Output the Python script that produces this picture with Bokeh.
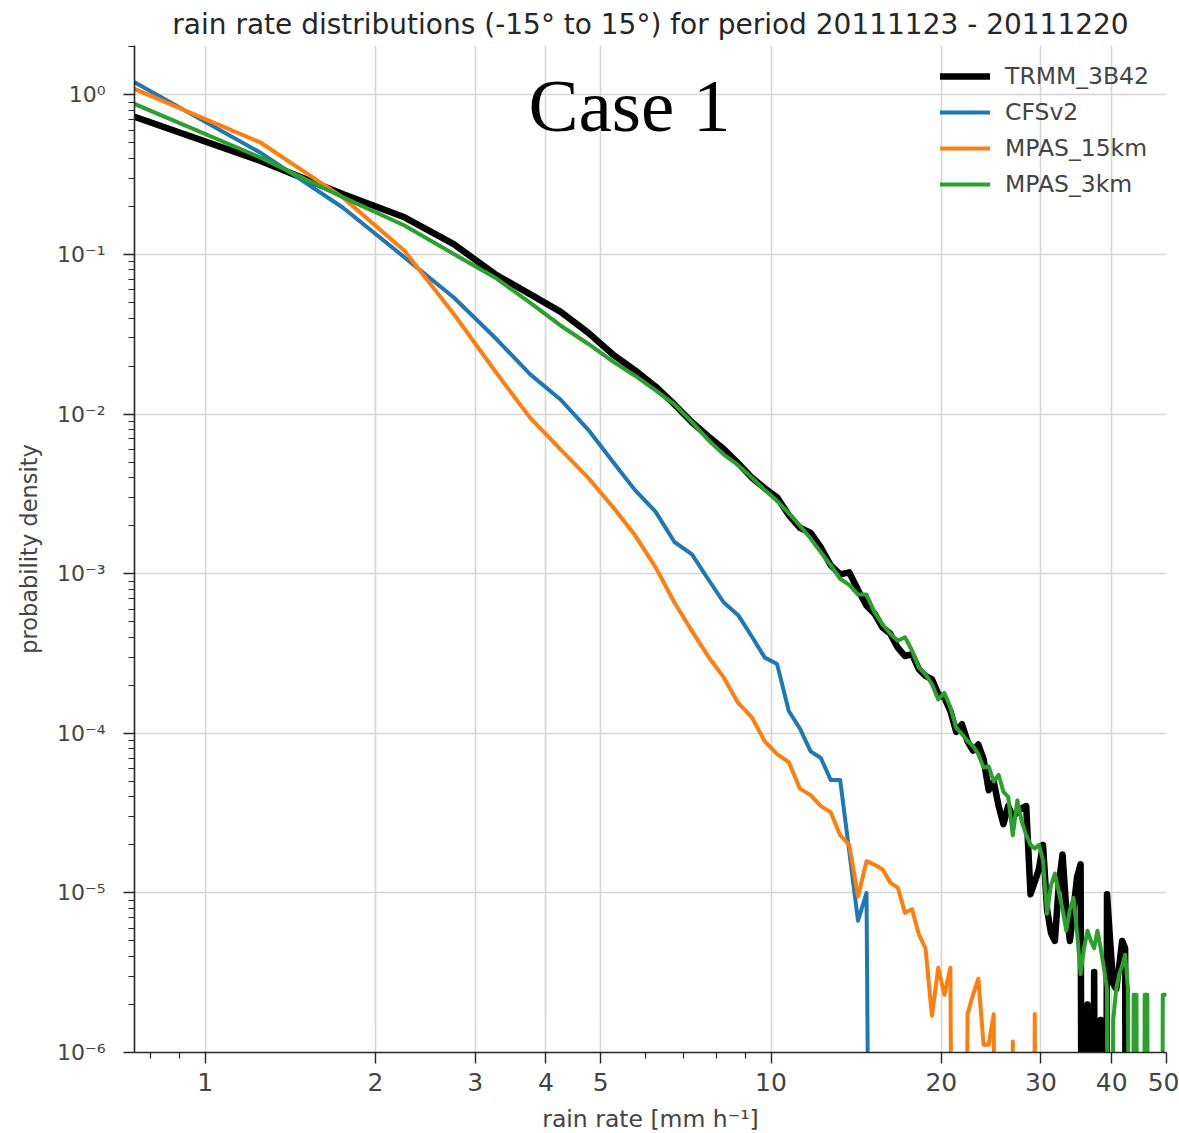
import numpy as np
from bokeh.plotting import figure
from bokeh.models import (FixedTicker, CustomJSTickFormatter, Legend, LegendItem,
                          Label, ColumnDataSource)
from bokeh.embed import file_html
from bokeh.resources import INLINE

# ---------------- data (bin centres, probability density) ----------------
rain_rate = [
    0.75, 1.25, 1.75, 2.25, 2.75, 3.25, 3.75, 4.25, 4.75, 5.25,
    5.75, 6.25, 6.75, 7.25, 7.75, 8.25, 8.75, 9.25, 9.75, 10.25,
    10.75, 11.25, 11.75, 12.25, 12.75, 13.25, 13.75, 14.25, 14.75, 15.25,
    15.75, 16.25, 16.75, 17.25, 17.75, 18.25, 18.75, 19.25, 19.75, 20.25,
    20.75, 21.25, 21.75, 22.25, 22.75, 23.25, 23.75, 24.25, 24.75, 25.25,
    25.75, 26.25, 26.75, 27.25, 27.75, 28.25, 28.75, 29.25, 29.75, 30.25,
    30.75, 31.25, 31.75, 32.25, 32.75, 33.25, 33.75, 34.25, 34.75, 35.25,
    35.75, 36.25, 36.75, 37.25, 37.75, 38.25, 38.75, 39.25, 39.75, 40.25,
    40.75, 41.25, 41.75, 42.25, 42.75, 43.25, 43.75, 44.25, 44.75, 45.25,
    45.75, 46.25, 46.75, 47.25, 47.75, 48.25, 48.75, 49.25, 49.75,
]

trmm_3b42 = [
    0.73, 0.387, 0.239, 0.171, 0.116, 0.0755, 0.0565, 0.0437, 0.0324, 0.0237,
    0.0188, 0.0149, 0.0115, 0.0089, 0.00724, 0.00604, 0.00492, 0.0040, 0.00343, 0.00301,
    0.00233, 0.00194, 0.0018, 0.00146, 0.00113, 0.00099, 0.00102, 0.00079, 0.00063, 0.00056,
    4.6e-4, 4.2e-4, 3.44e-4, 3.05e-4, 3.13e-4, 2.52e-4, 2.29e-4, 2.18e-4, 1.76e-4, 1.67e-4,
    1.38e-4, 1.02e-4, 1.14e-4, 8.9e-5, 7.8e-5, 8.5e-5, 6.9e-5, 4.4e-5, 5.0e-5, 3.5e-5,
    2.7e-5, 3.5e-5, 3.0e-5, 3.2e-5, 3.4e-5, 3.5e-5, 9.8e-6, 1.17e-5, 1.41e-5, 2.0e-5,
    7.9e-6, 5.6e-6, 5.0e-6, 1.12e-5, 1.74e-5, 7.9e-6, 5.0e-6, 7.9e-6, 1.26e-5, 1.51e-5,
    0, 2.0e-6, 0, 3.2e-6, 0, 1.6e-6, 0, 9.8e-6, 5.0e-6, 2.7e-6,
    2.5e-6, 3.5e-6, 5.0e-6, 4.5e-6, 0, 0, 0, 0, 0, 0,
    0, 0, 0, 0, 0, 0, 0, 0, 0,
]

cfsv2 = [
    1.2, 0.436, 0.197, 0.096, 0.0538, 0.0302, 0.0178, 0.0123, 0.0080, 0.00505,
    0.00334, 0.00245, 0.00158, 0.00132, 0.00092, 0.00066, 0.00055, 0.000404, 0.000298, 0.000272,
    1.38e-4, 1.07e-4, 7.7e-5, 7.0e-5, 5.1e-5, 5.1e-5, 1.82e-5, 6.7e-6, 1.0e-5, 0,
    0, 0, 0, 0, 0, 0, 0, 0, 0, 0,
    0, 0, 0, 0, 0, 0, 0, 0, 0, 0,
    0, 0, 0, 0, 0, 0, 0, 0, 0, 0,
    0, 0, 0, 0, 0, 0, 0, 0, 0, 0,
    0, 0, 0, 0, 0, 0, 0, 0, 0, 0,
    0, 0, 0, 0, 0, 0, 0, 0, 0, 0,
    0, 0, 0, 0, 0, 0, 0, 0, 0,
]

mpas_15km = [
    1.09, 0.505, 0.228, 0.1056, 0.0424, 0.0187, 0.0095, 0.0060, 0.0040, 0.00263,
    0.00174, 0.0011, 0.00066, 0.000437, 0.000302, 0.000224, 0.000155, 0.000126, 8.9e-5, 7.4e-5,
    6.6e-5, 4.5e-5, 4.1e-5, 3.5e-5, 3.2e-5, 2.3e-5, 2.0e-5, 9.5e-6, 1.58e-5, 1.5e-5,
    1.4e-5, 1.16e-5, 1.08e-5, 7.5e-6, 7.9e-6, 5.5e-6, 4.5e-6, 1.7e-6, 3.4e-6, 2.3e-6,
    3.4e-6, 0, 0, 1.74e-6, 2.3e-6, 2.9e-6, 1.12e-6, 1.12e-6, 1.74e-6, 0,
    0, 0, 1.17e-6, 0, 0, 0, 0, 1.74e-6, 0, 0,
    0, 0, 0, 0, 0, 0, 0, 0, 0, 0,
    0, 0, 0, 0, 0, 0, 0, 0, 0, 0,
    0, 0, 0, 0, 0, 0, 0, 0, 0, 0,
    0, 0, 0, 0, 0, 0, 0, 0, 0,
]

mpas_3km = [
    0.878, 0.406, 0.229, 0.152, 0.1007, 0.0718, 0.050, 0.0358, 0.0276, 0.0214,
    0.0174, 0.0141, 0.0115, 0.0089, 0.00687, 0.00558, 0.00479, 0.0040, 0.00334, 0.00286,
    0.00239, 0.0020, 0.00166, 0.00136, 0.00113, 0.00093, 0.00085, 0.00074, 0.00074, 0.00057,
    4.8e-4, 4.2e-4, 3.8e-4, 4.0e-4, 3.3e-4, 2.58e-4, 2.34e-4, 2.03e-4, 1.63e-4, 1.79e-4,
    1.45e-4, 1.08e-4, 9.9e-5, 8.95e-5, 8.3e-5, 7.4e-5, 6.1e-5, 6.2e-5, 5.0e-5, 5.5e-5,
    4.3e-5, 4.0e-5, 2.3e-5, 3.8e-5, 2.8e-5, 2.3e-5, 2.0e-5, 1.9e-5, 2.0e-5, 1.6e-5,
    7.4e-6, 1.12e-5, 1.32e-5, 1.02e-5, 7.9e-6, 5.8e-6, 7.9e-6, 9.3e-6, 5.6e-6, 3.1e-6,
    4.5e-6, 5.8e-6, 5.0e-6, 4.5e-6, 5.8e-6, 4.5e-6, 3.4e-6, 2.5e-6, 0, 1.6e-6,
    2.5e-6, 3.1e-6, 3.5e-6, 4.1e-6, 2.5e-6, 0, 2.3e-6, 2.3e-6, 0, 0,
    2.3e-6, 2.3e-6, 0, 0, 0, 0, 0, 2.3e-6, 2.3e-6,
]

series_names = ["TRMM_3B42", "CFSv2", "MPAS_15km", "MPAS_3km"]
series_values = [trmm_3b42, cfsv2, mpas_15km, mpas_3km]
series_colors = ["#000000", "#1f77b4", "#ff7f0e", "#2ca02c"]
series_widths = [6.5, 4, 4, 4]

x_tick_values = [1, 2, 3, 4, 5, 10, 20, 30, 40, 50]
x_minor_values = [0.8, 0.9, 6, 7, 8, 9]
y_tick_values = [1e-6, 1e-5, 1e-4, 1e-3, 1e-2, 1e-1, 1.0]
y_minor_values = [m * d for d in [1e-6, 1e-5, 1e-4, 1e-3, 1e-2, 1e-1, 1.0]
                  for m in range(2, 10)]

title_text = "rain rate distributions (-15\u00b0 to 15\u00b0) for period 20111123 - 20111220"

# ---------------- figure ----------------
FONT = "DejaVu Sans"
TXT = "#262626"
LBL = "#444444"

p = figure(x_axis_type="log", y_axis_type="log",
           x_range=(0.75, 50), y_range=(1e-6, 2.04),
           frame_width=1032, frame_height=1007,
           min_border_left=134, min_border_right=13,
           min_border_top=45, min_border_bottom=78,
           output_backend="svg", toolbar_location=None,
           title=title_text)

p.outline_line_color = None
p.background_fill_color = "white"
p.border_fill_color = "white"

p.title.align = "center"
p.title.text_font = FONT
p.title.text_font_size = "28px"
p.title.text_font_style = "normal"
p.title.text_color = TXT
p.title.standoff = 10

for g in (p.xgrid[0], p.ygrid[0]):
    g.grid_line_color = "#d5d5d5"
    g.grid_line_width = 1.6

xa = p.xaxis[0]
xa.ticker = FixedTicker(ticks=x_tick_values, minor_ticks=x_minor_values)
xa.formatter = CustomJSTickFormatter(code="return String(tick);")
xa.axis_label = "rain rate [mm h\u207b\u00b9]"

ya = p.yaxis[0]
ya.ticker = FixedTicker(ticks=y_tick_values, minor_ticks=y_minor_values)
ya.formatter = CustomJSTickFormatter(code="""
const sup = {"-": "\u207b", "0": "\u2070", "1": "\u00b9", "2": "\u00b2", "3": "\u00b3",
             "4": "\u2074", "5": "\u2075", "6": "\u2076", "7": "\u2077", "8": "\u2078", "9": "\u2079"};
const e = Math.round(Math.log10(tick));
return "10" + String(e).split("").map(c => sup[c]).join("");
""")
ya.axis_label = "probability density"

for ax in (xa, ya):
    ax.axis_line_color = TXT
    ax.axis_line_width = 1.6
    ax.major_tick_line_color = TXT
    ax.minor_tick_line_color = TXT
    ax.major_tick_line_width = 1.4
    ax.minor_tick_line_width = 1.2
    ax.major_tick_in = 0
    ax.major_tick_out = 11
    ax.minor_tick_in = 0
    ax.minor_tick_out = 6
    ax.major_label_text_font = FONT
    ax.major_label_text_color = LBL
    ax.axis_label_text_font = FONT
    ax.axis_label_text_font_style = "normal"
    ax.axis_label_text_color = LBL

xa.major_label_text_font_size = "25px"
ya.major_label_text_font_size = "22px"
xa.axis_label_text_font_size = "23.5px"
ya.axis_label_text_font_size = "22.5px"
xa.major_label_standoff = 9
xa.axis_label_standoff = 11
ya.major_label_standoff = 18
ya.axis_label_standoff = 12

items = []
for name, vals, col, lw in zip(series_names, series_values, series_colors, series_widths):
    arr = np.asarray(vals, dtype=float)
    shown = np.where(arr > 0, arr, 1e-12)  # empty bins fall below the axis
    src = ColumnDataSource(dict(x=rain_rate, y=shown))
    r = p.line("x", "y", source=src, line_color=col, line_width=lw,
               line_join="round", line_cap="round")
    items.append(LegendItem(label=name, renderers=[r]))

legend = Legend(items=items, location="top_right")
legend.label_text_font = FONT
legend.label_text_font_size = "23.5px"
legend.label_text_color = LBL
legend.glyph_width = 50
legend.glyph_height = 28
legend.label_height = 28
legend.spacing = 8
legend.padding = 12
legend.margin = 17
legend.label_standoff = 15
legend.border_line_color = None
legend.background_fill_alpha = 0
p.add_layout(legend)

case_label = Label(x=5.62, y=0.86, text="Case 1", text_font="Liberation Serif",
                   text_font_size="75px", text_align="center",
                   text_baseline="middle", text_color="black")
p.add_layout(case_label)

open("out.html", "w").write(file_html(p, INLINE))
